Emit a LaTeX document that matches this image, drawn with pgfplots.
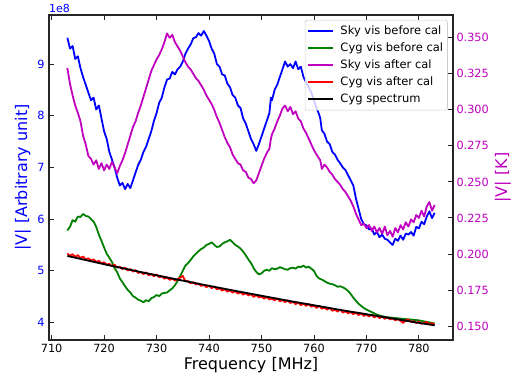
\documentclass[border=0pt]{standalone}
\usepackage{fontspec}
\setmainfont{DejaVu Sans}
\usepackage{pgfplots}
\pgfplotsset{compat=1.18}
\definecolor{mplblue}{rgb}{0,0,1}
\definecolor{mplgreen}{rgb}{0,0.5,0}
\definecolor{mplmag}{rgb}{0.75,0,0.75}
\definecolor{mplred}{rgb}{1,0,0}
\pgfplotsset{common/.style={
  at={(0,0)}, anchor=south west,
  scale only axis, width=404bp, height=325bp,
  xmin=709.5, xmax=786.5,
  tick align=inside,
  major tick length=5bp,
  axis line style={line width=1.1bp, black!85},
  every tick/.style={black!85, line width=0.9bp},
  /pgf/number format/assume math mode=true,
  tick label style={font=\fontsize{11.3bp}{13bp}\selectfont},
  scaled y ticks=false,
}}
\begin{document}
\begin{tikzpicture}
\path[use as bounding box] (-49bp,-45bp) rectangle (474bp,340bp);
\begin{axis}[common, name=ax1,
  ymin=3.66, ymax=9.95,
  ytick={4,5,6,7,8,9}, ytick pos=left,
  xtick={710,720,730,740,750,760,770,780}, xtick pos=both, xticklabel pos=bottom,
  yticklabel style={text=mplblue, xshift=-1bp},
  xticklabel style={yshift=-1bp},
]
% Sky vis before cal (x 1e8)
\addplot[mplblue, line width=1.8bp, line join=round] coordinates {
(713.0,9.51) (713.5,9.30) (714.0,9.35) (714.5,9.10) (715.0,9.15) (715.5,8.92) (716.0,8.75) (716.5,8.60)
(717.0,8.45) (717.5,8.30) (718.0,8.35) (718.5,8.12) (719.0,8.20) (719.5,7.95) (720.0,7.70) (720.5,7.55)
(721.0,7.30) (721.5,7.15) (722.0,7.00) (722.5,6.80) (723.0,6.65) (723.5,6.70) (724.0,6.58) (724.5,6.68)
(725.0,6.60) (725.5,6.75) (726.0,6.90) (726.5,7.05) (727.0,7.15) (727.5,7.30) (728.0,7.40) (728.5,7.55)
(729.0,7.70) (729.5,7.90) (730.0,8.05) (730.5,8.25) (731.0,8.35) (731.5,8.55) (732.0,8.70) (732.5,8.72)
(733.0,8.85) (733.5,8.80) (734.0,8.90) (734.5,8.95) (735.0,9.05) (735.5,9.20) (736.0,9.30) (736.5,9.38)
(737.0,9.50) (737.5,9.52) (738.0,9.60) (738.5,9.55) (739.0,9.64) (739.5,9.55) (740.0,9.45) (740.5,9.30)
(741.0,9.20) (741.5,9.00) (742.0,8.95) (742.5,8.80) (743.0,8.78) (743.5,8.62) (744.0,8.55) (744.5,8.40)
(745.0,8.35) (745.5,8.20) (746.0,8.15) (746.5,7.95) (747.0,7.85) (747.5,7.70) (748.0,7.55) (748.5,7.45)
(749.0,7.32) (749.5,7.45) (750.0,7.60) (750.5,7.75) (751.0,7.90) (751.5,8.05) (751.8,8.35) (752.0,8.30)
(752.5,8.50) (753.0,8.60) (753.5,8.75) (754.0,8.90) (754.5,9.05) (755.0,8.95) (755.5,9.00) (756.0,8.92)
(756.5,9.05) (757.0,8.90) (757.5,8.95) (758.0,8.75) (758.5,8.65) (759.0,8.55) (759.5,8.45) (760.0,8.30)
(760.5,8.15) (761.0,8.02) (761.2,7.95) (761.5,7.72) (762.0,7.65) (762.5,7.50) (763.0,7.45) (763.5,7.30)
(764.0,7.25) (764.5,7.15) (765.0,7.08) (765.5,7.00) (766.0,6.95) (766.5,6.85) (767.0,6.75) (767.5,6.65)
(768.0,6.40) (768.5,6.20) (769.0,6.00) (769.5,5.90) (770.0,5.88) (770.5,5.80) (771.0,5.82) (771.5,5.70)
(772.0,5.75) (772.5,5.65) (773.0,5.70) (773.5,5.62) (774.0,5.60) (774.5,5.55) (775.0,5.50) (775.5,5.62)
(776.0,5.58) (776.5,5.68) (777.0,5.60) (777.5,5.72) (778.0,5.70) (778.5,5.75) (779.0,5.68) (779.5,5.85)
(780.0,5.82) (780.5,5.95) (781.0,5.90) (781.5,6.05) (782.0,6.15) (782.5,6.02) (783.0,6.12)
};
% Cyg vis before cal (x 1e8)
\addplot[mplgreen, line width=1.8bp, line join=round] coordinates {
(713,5.78) (713.5,5.85) (714,5.98) (714.5,5.95) (715,6.05) (715.5,6.04) (716,6.10) (716.5,6.06) (717,6.05)
(717.5,6.00) (718,5.95) (718.5,5.85) (719,5.70) (719.5,5.58) (720,5.45) (720.5,5.33) (721,5.25) (721.5,5.17) (722,5.05)
(722.5,4.97) (723,4.85) (723.5,4.78) (724,4.70) (724.5,4.63) (725,4.58) (725.5,4.51) (726,4.48) (726.5,4.44) (727,4.42) (727.5,4.39) (728,4.43)
(728.5,4.41) (729,4.47) (729.5,4.49) (730,4.53) (730.5,4.51) (731,4.56)
(731.5,4.57) (732,4.58) (732.5,4.62) (733,4.66) (733.5,4.72) (734,4.80) (734.5,4.90) (735,5.00) (735.5,5.10) (736,5.15) (736.5,5.21) (737,5.28) (737.5,5.33) (738,5.38) (738.5,5.42) (739,5.45) (739.5,5.50) (740,5.52)
(740.5,5.55) (741,5.50) (741.5,5.46) (742,5.47) (742.5,5.52) (743,5.55) (743.5,5.57) (744,5.60) (744.5,5.55) (745,5.50) (745.5,5.47) (746,5.43) (746.5,5.37) (747,5.30) (747.5,5.22) (748,5.15) (748.5,5.05) (749,4.98)
(749.5,4.93) (750,4.95) (750.5,5.00) (751,5.02) (751.5,5.00) (752,5.05) (752.5,5.03) (753,5.04) (753.5,5.07) (754,5.05) (754.5,5.03) (755,5.02) (755.5,5.05) (756,5.06) (756.5,5.04) (757,5.08) (757.5,5.07) (758,5.10)
(758.5,5.06) (759,5.08) (759.5,5.04) (760,5.00) (760.5,4.90) (761,4.85) (761.5,4.83) (762,4.80) (762.5,4.77) (763,4.75) (763.5,4.74) (764,4.72) (764.5,4.69) (765,4.70) (765.5,4.68) (766,4.65) (766.5,4.61) (767,4.55)
(767.5,4.48) (768,4.42) (768.5,4.36) (769,4.32) (769.5,4.28) (770,4.25) (771,4.20) (772,4.15) (773,4.12) (774,4.10) (775,4.09) (776,4.08)
(777,4.07) (778,4.06) (779,4.05) (780,4.04) (781,4.02) (782,4.00) (783,3.98)
};
\end{axis}
\begin{axis}[common,
  ymin=0.1403, ymax=0.3658,
  axis y line*=right, hide x axis,
  ytick={0.150,0.175,0.200,0.225,0.250,0.275,0.300,0.325,0.350},
  yticklabel style={text=mplmag, /pgf/number format/.cd, fixed, fixed zerofill, precision=3},
  legend cell align=left,
  legend image code/.code={\draw[#1] (0bp,0bp) -- (25bp,0bp);},
  legend style={at={(rel axis cs:0.987,0.985)}, anchor=north east,
    draw=black!20, line width=0.6bp, fill=white, fill opacity=0.8, text opacity=1,
    rounded corners=2bp, font=\fontsize{11.5bp}{13bp}\selectfont,
    inner xsep=2.3bp, inner ysep=4.3bp, row sep=4.1bp, column sep=4.3bp,
    nodes={inner ysep=1bp, inner xsep=2bp, text height=8.6bp, text depth=2.4bp}},
]
\addlegendimage{mplblue, line width=1.8bp}
\addlegendentry{Sky vis before cal}
\addlegendimage{mplgreen, line width=1.8bp}
\addlegendentry{Cyg vis before cal}
% Sky vis after cal (K)
\addplot[mplmag, line width=1.8bp, line join=round] coordinates {
(713.0,0.329) (713.5,0.318) (714.0,0.310) (714.5,0.303) (715.0,0.298) (715.5,0.292) (716.0,0.282) (716.5,0.276)
(717.0,0.268) (717.5,0.266) (718.0,0.262) (718.5,0.265) (719.0,0.259) (719.5,0.263) (720.0,0.258) (720.5,0.262)
(721.0,0.259) (721.5,0.264) (722.0,0.260) (722.5,0.256) (723.0,0.261) (723.5,0.265) (724.0,0.270) (724.5,0.276)
(725.0,0.282) (725.5,0.288) (726.0,0.292) (726.5,0.298) (727.0,0.303) (727.5,0.309) (728.0,0.315) (728.5,0.321)
(729.0,0.327) (729.5,0.331) (730.0,0.335) (730.5,0.338) (731.0,0.342) (731.5,0.347) (732.0,0.353) (732.5,0.350)
(733.0,0.352) (733.5,0.347) (734.0,0.344) (734.5,0.341) (735.0,0.337) (735.5,0.333) (736.0,0.330) (736.5,0.328)
(737.0,0.325) (737.5,0.322) (738.0,0.320) (738.5,0.317) (739.0,0.314) (739.5,0.310) (740.0,0.307) (740.5,0.304)
(741.0,0.300) (741.5,0.295) (742.0,0.291) (742.5,0.286) (743.0,0.281) (743.5,0.277) (744.0,0.274) (744.5,0.269)
(745.0,0.266) (745.5,0.263) (746.0,0.262) (746.5,0.258) (747.0,0.257) (747.5,0.253) (748.0,0.252) (748.5,0.249)
(749.0,0.251) (749.5,0.256) (750.0,0.261) (750.5,0.266) (751.0,0.270) (751.5,0.273) (751.8,0.280) (752.0,0.283)
(752.5,0.287) (753.0,0.292) (753.5,0.296) (754.0,0.301) (754.5,0.303) (755.0,0.299) (755.5,0.302) (756.0,0.297)
(756.5,0.299) (757.0,0.294) (757.5,0.292) (758.0,0.287) (758.5,0.284) (759.0,0.280) (759.5,0.276) (760.0,0.272)
(760.5,0.269) (761.0,0.266) (761.2,0.265) (761.5,0.259) (762.0,0.262) (762.5,0.260) (763.0,0.257) (763.5,0.255)
(764.0,0.252) (764.5,0.250) (765.0,0.248) (765.5,0.245) (766.0,0.243) (766.5,0.240) (767.0,0.237) (767.5,0.233)
(768.0,0.228) (768.5,0.224) (769.0,0.220) (769.5,0.221) (770.0,0.218) (770.5,0.220) (771.0,0.216) (771.5,0.219)
(772.0,0.215) (772.5,0.218) (773.0,0.214) (773.5,0.219) (774.0,0.213) (774.5,0.216) (775.0,0.212) (775.5,0.218)
(776.0,0.215) (776.5,0.220) (777.0,0.217) (777.5,0.222) (778.0,0.219) (778.5,0.224) (779.0,0.222) (779.5,0.227)
(780.0,0.225) (780.5,0.230) (781.0,0.226) (781.5,0.233) (782.0,0.236) (782.5,0.230) (783.0,0.234)
};
\addlegendentry{Sky vis after cal}
% Cyg vis after cal (K)
\addplot[mplred, line width=1.8bp, line join=round] coordinates {
(713,0.2003) (713.5,0.1988) (714,0.1998) (714.5,0.1980) (715,0.1992) (715.5,0.1972) (716,0.1982) (716.5,0.1962) (717,0.1970)
(717.5,0.1955) (718,0.1962) (718.5,0.1945) (719,0.1952) (719.5,0.1935) (720,0.1942) (720.5,0.1925) (721,0.1932) (721.5,0.1915)
(722,0.1925) (722.5,0.1905) (723,0.1912) (723.5,0.1895) (724,0.1905) (724.5,0.1885) (725,0.1895) (725.5,0.1878) (726,0.1888)
(726.5,0.1868) (727,0.1875) (727.5,0.1860) (728,0.1872) (728.5,0.1852) (729,0.1860) (729.5,0.1845) (730,0.1858) (730.5,0.1838)
(731,0.1845) (731.5,0.1828) (732,0.1838) (732.5,0.1820) (733,0.1830) (733.5,0.1815) (734,0.1825) (734.5,0.1835) (735,0.1848)
(735.5,0.1810) (736,0.1812) (736.5,0.1796) (737,0.1804) (737.5,0.1788) (738,0.1795) (738.5,0.1778) (739,0.1786) (739.5,0.1770)
(740,0.1780) (740.5,0.1762) (741,0.1775) (741.5,0.1755) (742,0.1762) (742.5,0.1746) (743,0.1755) (743.5,0.1738) (744,0.1748)
(744.5,0.1732) (745,0.1742) (745.5,0.1725) (746,0.1735) (746.5,0.1718) (747,0.1728) (747.5,0.1712) (748,0.1722) (748.5,0.1702)
(749,0.1716) (749.5,0.1698) (750,0.1705) (750.5,0.1690) (751,0.1702) (751.5,0.1684) (752,0.1690) (752.5,0.1678) (753,0.1692)
(753.5,0.1672) (754,0.1680) (754.5,0.1666) (755,0.1678) (755.5,0.1660) (756,0.1668) (756.5,0.1652) (757,0.1664) (757.5,0.1645)
(758,0.1655) (758.5,0.1640) (759,0.1652) (759.5,0.1634) (760,0.1642) (760.5,0.1626) (761,0.1640) (761.5,0.1620) (762,0.1628)
(762.5,0.1614) (763,0.1626) (763.5,0.1606) (764,0.1614) (764.5,0.1600) (765,0.1615) (765.5,0.1594) (766,0.1602) (766.5,0.1588)
(767,0.1598) (767.5,0.1582) (768,0.1594) (768.5,0.1576) (769,0.1588) (769.5,0.1570) (770,0.1580) (770.5,0.1566) (771,0.1578)
(771.5,0.1560) (772,0.1572) (772.5,0.1555) (773,0.1566) (773.5,0.1550) (774,0.1560) (774.5,0.1546) (775,0.1553) (775.5,0.1540)
(776,0.1548) (776.5,0.1536) (777,0.1522) (777.5,0.1540) (778,0.1545) (778.5,0.1528) (779,0.1534) (779.5,0.1520) (780,0.1530)
(780.5,0.1515) (781,0.1522) (781.5,0.1528) (782,0.1512) (782.5,0.1520) (783,0.1508)
};
\addlegendentry{Cyg vis after cal}
% Cyg spectrum (K)
\addplot[black, line width=1.8bp, smooth] coordinates {
(713,0.1986) (715,0.1970) (720,0.1929) (725,0.1890) (730,0.1852) (735,0.1815) (740,0.1779) (745,0.1744)
(750,0.1710) (755,0.1676) (760,0.1644) (765,0.1612) (770,0.1582) (775,0.1552) (780,0.1522) (783,0.1505)
};
\addlegendentry{Cyg spectrum}
\end{axis}
\node[anchor=south west, inner sep=0pt, text=mplblue, font=\fontsize{11bp}{13bp}\selectfont] at ([yshift=2bp]ax1.north west) {1e8};
\node[rotate=90, text=mplblue, font=\fontsize{16bp}{19bp}\selectfont, inner sep=0pt] at ([xshift=-26bp]ax1.west) {|V| [Arbitrary unit]};
\node[rotate=90, text=mplmag, font=\fontsize{16bp}{19bp}\selectfont, inner sep=0pt] at ([xshift=50bp]ax1.east) {|V| [K]};
\node[font=\fontsize{16bp}{19bp}\selectfont, inner sep=0pt] at ([yshift=-25bp]ax1.south) {Frequency [MHz]};
\end{tikzpicture}
\end{document}
